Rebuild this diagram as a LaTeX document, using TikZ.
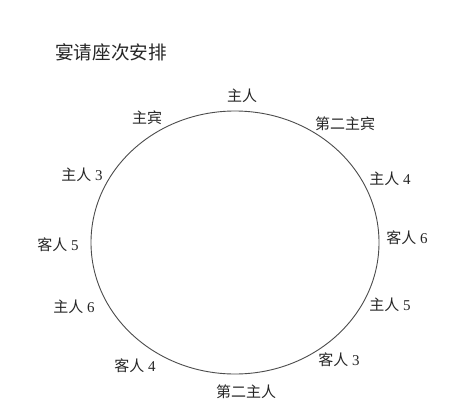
\documentclass[tikz,border=0pt]{standalone}
\usepackage{fontspec}
\setmainfont{Liberation Serif}
\newfontfamily\cjk{Noto Sans CJK SC}
\begin{document}
\begin{tikzpicture}[x=1pt,y=-1pt,
  seat/.style={font=\fontsize{15}{17}\selectfont, inner sep=0pt, text=black!85},
  ttl/.style={font=\cjk\fontsize{18.6}{20}\selectfont, inner sep=0pt, text=black!85}]
\useasboundingbox[fill=white] (0,0) rectangle (449,418);
\draw[black!70, line width=0.9pt] (235,242.5) ellipse [x radius=144, y radius=131.5];
\node[ttl] (title) at (111,52) {宴请座次安排};
\node[seat] (host) at (242,96) {\cjk 主人};
\node[seat] (guest) at (147,118) {\cjk 主宾};
\node[seat] (guest2) at (345,124) {\cjk 第二主宾};
\node[seat] (h3) at (82,175) {{\cjk 主人} 3};
\node[seat] (h4) at (390,179) {{\cjk 主人} 4};
\node[seat] (k5) at (58,245) {{\cjk 客人} 5};
\node[seat] (k6) at (407,238) {{\cjk 客人} 6};
\node[seat] (h6) at (74,307) {{\cjk 主人} 6};
\node[seat] (h5) at (390,305) {{\cjk 主人} 5};
\node[seat] (k4) at (135,366) {{\cjk 客人} 4};
\node[seat] (k3) at (339,360) {{\cjk 客人} 3};
\node[seat] (host2) at (246,392) {\cjk 第二主人};
\end{tikzpicture}
\end{document}
